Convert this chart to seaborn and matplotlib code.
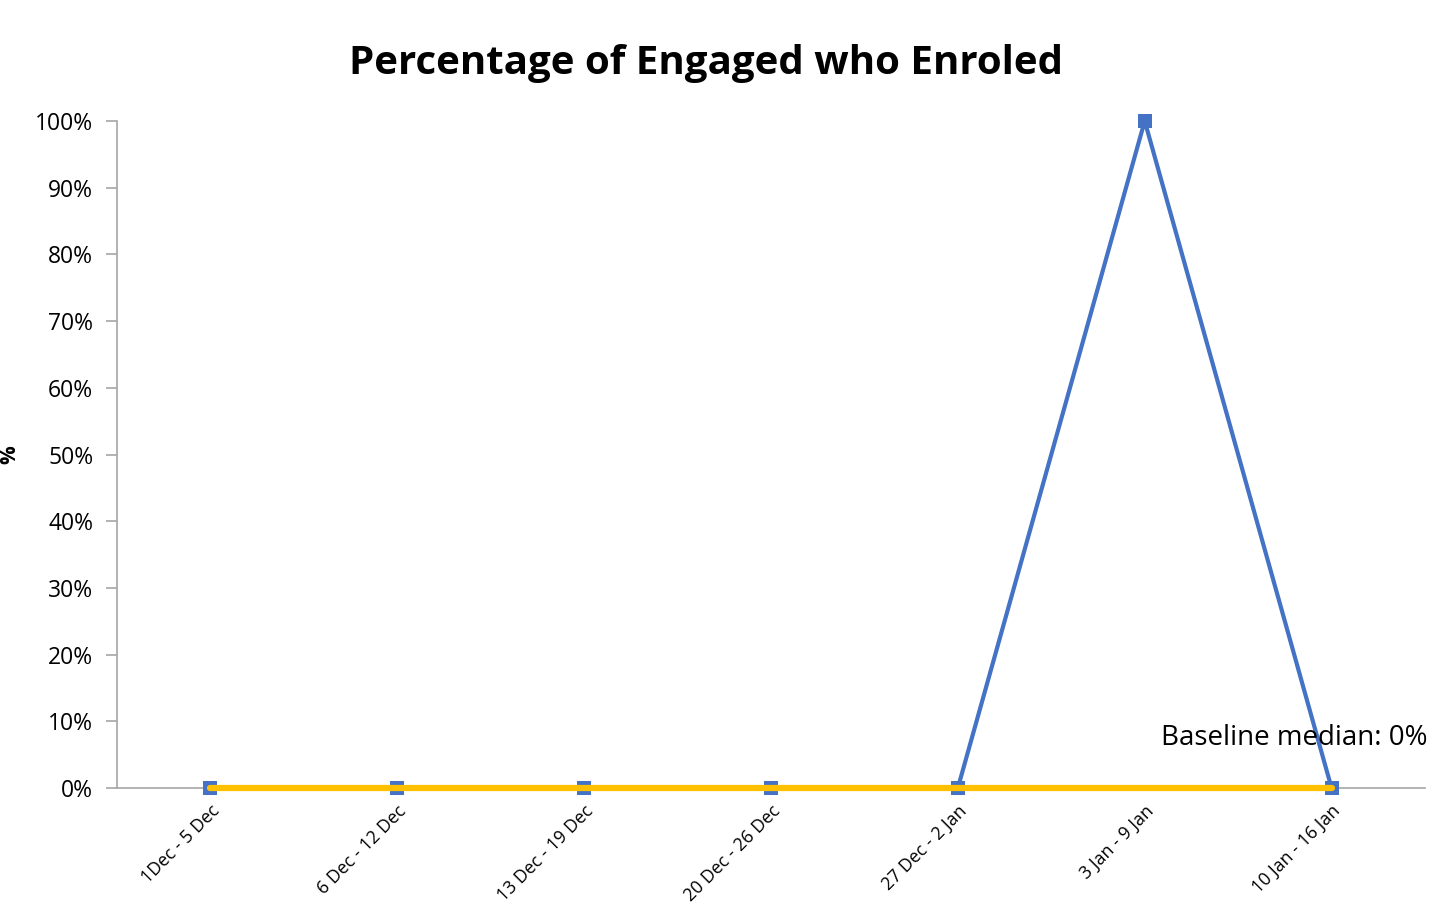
import numpy as np
import pandas as pd
import matplotlib
matplotlib.use("Agg")
import matplotlib.pyplot as plt
import seaborn as sns
from matplotlib.ticker import PercentFormatter

# data
weeks = ["1Dec - 5 Dec", "6 Dec - 12 Dec", "13 Dec - 19 Dec", "20 Dec - 26 Dec",
         "27 Dec - 2 Jan", "3 Jan - 9 Jan", "10 Jan - 16 Jan"]
pct_enrolled = [0, 0, 0, 0, 0, 100, 0]
baseline_median = [0, 0, 0, 0, 0, 0, 0]

df = pd.DataFrame({"week": weeks, "pos": np.arange(len(weeks)),
                   "pct": pct_enrolled, "median": baseline_median})

sns.set_style("white")
plt.rcParams['font.family'] = ['Open Sans', 'DejaVu Sans']
plt.rcParams.update({"text.color": "black", "axes.labelcolor": "black",
                     "xtick.labelcolor": "black", "ytick.labelcolor": "black"})

fig = plt.figure(figsize=(14.3, 9.18), dpi=100)
ax = fig.add_axes([0.0818, 0.1416, 0.9147, 0.7266])

blue = "#4472C4"
yellow = "#FFC000"

sns.lineplot(data=df, x="pos", y="pct", ax=ax, color=blue, linewidth=3,
             marker="s", markersize=10, markeredgewidth=0, zorder=3, clip_on=False)
sns.lineplot(data=df, x="pos", y="median", ax=ax, color=yellow, linewidth=4.5,
             zorder=4, clip_on=False, solid_capstyle="round")

ax.set_xlim(-0.5, len(weeks) - 0.5)
ax.set_ylim(0, 100)
ax.set_yticks(np.arange(0, 101, 10))
ax.yaxis.set_major_formatter(PercentFormatter(decimals=0))
ax.tick_params(axis="y", labelsize=16.5, length=8, width=1.2, color="#A6A6A6",
               direction="out", left=True, pad=9)

ax.set_xticks(df["pos"])
ax.set_xticklabels(weeks, rotation=45, ha="right", rotation_mode="anchor", fontsize=12.8)
ax.tick_params(axis="x", length=0, pad=10)
# category separators crossing the axis
ax.set_xticks(np.arange(-0.5, len(weeks), 1), minor=True)
ax.tick_params(axis="x", which="minor", length=10, direction="inout", color="#A6A6A6", width=1.2)

for side in ["top", "right"]:
    ax.spines[side].set_visible(False)
for side in ["left", "bottom"]:
    ax.spines[side].set_color("#A6A6A6")
    ax.spines[side].set_linewidth(1.2)

ax.set_xlabel("")
ax.set_ylabel("")
fig.text(10 / 1430, 1 - 455 / 918, "%", rotation=90, fontsize=15, fontweight="bold",
         ha="center", va="center")

fig.suptitle("Percentage of Engaged who Enroled", fontsize=29, fontweight="bold", y=0.952, x=0.494)

ax.text(6.515, 7.5, f"Baseline median: {baseline_median[-1]}%", fontsize=20,
        ha="right", va="center", clip_on=False)

fig.savefig("out.png", dpi=100)
